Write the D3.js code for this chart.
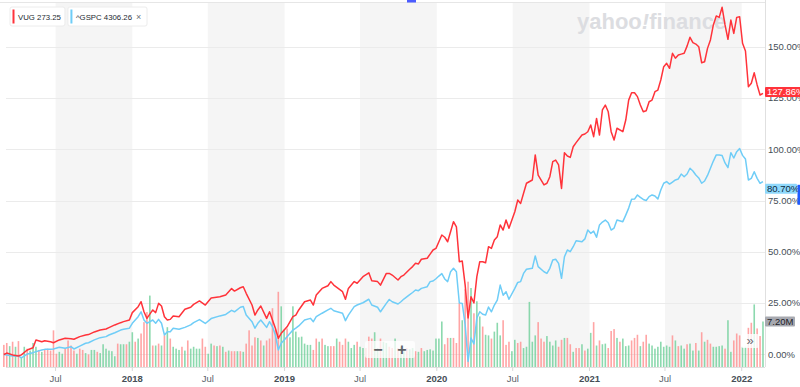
<!DOCTYPE html>
<html><head><meta charset="utf-8">
<script src="https://cdn.jsdelivr.net/npm/d3@7"></script>
<style>
html,body{margin:0;padding:0;background:#fff;overflow:hidden;}
svg{display:block;font-family:"Liberation Sans",Arial,sans-serif;}
</style></head>
<body><svg id="chart" width="800" height="387"></svg>
<script>
// ---------------- DATA ----------------
const startWeek = "2017-02-27";              // week 0 (weekly points, Monday dates)
const weekNo = [0,1,3,5,6,8,10,11,13,14,16,17,19,21,23,24,26,28,29,31,33,35,36,38,40,41,43,44,46,47,48,49,51,52,53,54,55,56,57,58,60,62,64,65,67,69,71,74,76,78,79,81,82,83,85,86,87,88,90,91,92,93,94,95,97,99,100,101,103,105,106,107,109,111,112,113,116,117,118,120,121,123,125,126,128,129,131,132,133,135,136,137,139,140,141,142,143,145,146,147,148,149,150,151,152,153,154,155,156,157,158,159,160,161,162,163,164,165,166,167,168,169,170,171,172,173,175,176,177,178,179,181,182,183,185,186,187,188,189,190,191,192,193,194,195,196,198,199,200,201,202,203,204,205,206,207,208,209,210,212,213,214,215,216,217,218,219,220,221,222,223,224,225,226,227,228,229,230,231,232,233,234,235,236,237,238,239,240,241,242,243,244,245,246,247,248,249,250,251,252,253,254,255,256,257,258,259,260];
const vugPct = [0,0.7,-0.2,-0.7,-0.2,2.2,3.3,7.1,6.2,6.7,6.2,5.7,7.1,7.9,7.7,7.4,8.7,9.5,9.7,11.0,11.9,12.4,13.1,14.4,15.5,16.0,16.8,20.4,23.3,25.7,20.8,17.6,21.7,20.4,24.9,23.6,18.4,16.8,17.1,18.8,18.4,22.0,23.0,24.4,26.1,24.1,27.5,28.1,29.0,32.1,30.9,32.5,33.0,29.8,24.1,19.2,21.7,23.6,17.6,20.8,16.8,12.8,7.9,10.3,13.5,18.4,19.2,21.7,25.7,26.5,24.1,29.0,32.2,33.5,35.5,33.8,30.6,26.9,32.2,35.5,34.7,37.9,39.8,35.9,35.5,33.8,39.5,39.5,38.7,36.3,37.9,38.7,41.5,42.8,44.4,44.1,46.4,46.9,48.9,50.9,51.7,54.9,58.2,57.1,54.9,59.8,64.7,62.2,45.2,45.5,33.8,17.8,28.1,25.1,37.9,45.2,45.2,44.7,52.5,51.7,55.8,57.4,63.1,60.6,65.5,61.5,69.5,75.2,73.6,78.5,83.4,85.0,97.2,87.4,82.6,83.4,86.6,93.9,94.7,92.3,80.9,98.3,96.7,96.0,101.2,103.2,106.9,107.4,108.5,111.8,106.1,115.0,106.9,119.1,121.5,118.2,108.5,104.5,110.2,108.5,114.2,123.9,127.5,127.5,125.6,121.5,118.2,118.7,123.1,123.9,128.0,128.8,133.7,140.2,141.8,139.4,146.7,144.3,145.9,146.3,146.7,150.2,154.5,151.9,151.2,149.9,142.1,142.6,149.1,153.2,160.5,164.9,164.2,169.1,160.5,153.5,162.9,156.4,164.2,164.5,151.6,147.8,130.4,132.1,137.2,131.3,126.4,127.2];
const gspcPct = [0,-0.2,-0.7,-0.7,-1.6,0.2,0.9,1.4,2.2,2.5,2.5,2.7,3.5,3.0,3.8,2.7,4.1,5.5,5.7,7.1,8.2,8.7,9.5,10.6,11.9,12.3,12.8,15.2,18.4,20.8,16.8,15.2,16.8,15.2,17.1,15.2,9.5,11.1,11.1,12.8,12.3,13.2,14.4,15.5,17.0,15.1,17.5,18.8,19.5,21.5,20.8,23.0,23.4,19.2,16.0,12.8,15.2,16.8,13.2,16.0,13.5,9.5,2.2,5.5,8.7,11.9,12.8,13.9,16.8,17.6,16.0,18.4,20.1,21.7,22.5,21.3,20.1,16.5,19.2,23.3,24.1,25.2,26.9,24.1,23.0,20.8,24.9,26.8,25.7,24.6,25.7,27.0,29.2,30.2,31.4,31.1,32.2,33.0,35.5,35.8,36.9,38.2,39.4,36.8,35.5,40.3,42.0,40.3,25.1,24.9,14.4,-3.4,8.0,5.1,17.8,20.8,19.6,19.2,23.1,20.8,24.1,26.5,33.8,28.9,30.6,26.9,32.2,35.1,35.5,39.5,41.5,42.0,48.0,42.8,40.3,39.5,42.0,46.0,46.4,44.4,37.1,47.6,50.9,50.1,52.5,55.4,54.9,56.3,60.6,59.0,60.1,57.1,63.1,64.5,65.5,64.2,60.6,61.6,65.5,64.7,67.9,71.3,75.6,75.7,77.7,76.5,75.5,75.0,76.9,77.7,77.2,75.7,80.1,83.4,84.2,83.0,84.0,85.0,85.5,87.9,86.6,87.9,90.7,89.4,87.4,86.0,83.4,84.5,87.2,90.7,94.2,97.2,97.2,96.9,93.3,91.0,98.3,95.7,98.8,100.3,97.0,95.2,85.0,85.8,89.0,85.8,83.4,84.2];
// weekly volume (millions), one per week from week 0 to week 260
const volumeM = [3.5,3.8,3.3,4.0,3.2,4.1,1.6,3.2,2.9,2.6,
3.8,3.2,2.7,2.4,2.7,2.9,2.6,5.8,2.1,2.4,
2.1,2.9,4.2,3.4,2.6,2.1,2.9,2.7,2.2,2.0,
2.7,2.7,2.4,2.2,3.6,2.9,2.6,2.5,1.7,3.7,
3.6,3.6,3.6,4.0,5.5,4.0,4.5,5.3,7.1,8.7,
11.3,3.4,3.4,3.7,3.4,5.0,6.3,4.5,3.2,2.9,
2.7,3.2,2.6,4.2,2.9,3.2,2.9,2.9,4.5,3.2,
2.1,3.7,3.4,3.3,3.4,3.2,2.4,2.6,2.5,2.5,
2.5,2.5,2.4,3.7,5.8,3.4,4.7,4.6,4.2,3.4,
4.2,4.5,9.3,5.9,11.9,9.6,5.9,6.1,4.7,9.6,
5.6,4.7,4.8,3.7,3.5,3.5,2.7,4.5,4.0,4.5,
3.5,3.3,3.3,3.3,4.5,4.0,3.5,4.5,4.0,3.0,
3.5,4.0,3.2,3.0,3.0,4.8,4.5,5.5,3.0,4.5,
4.0,3.8,3.2,3.0,4.5,3.0,3.2,2.5,3.0,2.8,
3.0,2.5,2.4,3.0,2.5,2.7,2.8,2.6,4.5,4.5,
7.2,3.6,4.6,4.6,4.6,3.8,10.1,7.4,12.3,13.5,
12.5,8.5,10.4,8.0,6.4,5.1,5.0,4.5,5.6,7.0,
5.0,7.4,3.5,4.0,2.5,4.3,3.8,4.0,3.0,3.2,
10.3,4.0,5.0,7.1,4.5,4.0,4.9,4.0,3.4,4.2,
3.2,4.3,4.6,4.6,3.6,2.4,3.0,3.0,3.6,2.6,
2.9,5.4,7.1,3.4,4.2,3.6,3.7,3.0,5.7,6.0,
4.6,4.0,4.5,3.3,3.4,4.2,4.6,5.1,3.3,4.0,
5.1,3.7,3.4,2.9,3.2,4.0,3.2,3.4,3.2,5.0,
4.2,3.3,3.4,2.9,3.6,3.7,2.6,3.8,2.6,5.5,
4.0,4.3,3.7,3.2,3.2,3.3,3.4,2.9,7.4,2.4,
4.2,5.3,5.0,3.2,3.2,6.2,7.0,9.9,6.1,4.9,
7.2];
// g = up week, r = down week
const volumeDir = ("rrgrgrggrg"+"ggrgrrrrrg"+"grrrrgrrgr"+"ggrggggggr"+"ggrggrgrrr"+
  "grgrgrgrgg"+"grgrggggrr"+"ggrgrgrgrr"+"grgrrrrgrg"+"rrrrrggrgg"+
  "ggggggrrgr"+"ggrrgrrrgg"+"grggrrrggr"+"ggrrgrggrg"+"grgrgggggg"+
  "grrgrrrgrr"+"grggrggrgg"+"grrrggrrgg"+"gggrrrgggg"+"rrgrrgrrgr"+
  "ggrgrggrrr"+"grgggrrrgr"+"rggggggggr"+"grggrggrgr"+"grrggggrgg"+
  "rrrggrrgrr"+"g").split("");
const yTicks = [0,25,50,75,100,125,150];
const xTicks = ["2017-07-01","2018-01-01","2018-07-01","2019-01-01","2019-07-01","2020-01-01","2020-07-01","2021-01-01","2021-07-01","2022-01-01"];
const legendItems = [{sym:"VUG", price:"273.25", color:"#ff333a"},{sym:"^GSPC", price:"4306.26", color:"#6fcdf7"}];
const lastVug = 127.86, lastGspc = 80.70, lastVol = 7.20;

// ---------------- CHART ----------------
const svg = d3.select("#chart");
const parse = d3.utcParse("%Y-%m-%d");
const start = parse(startWeek);
const dateOf = w => d3.utcDay.offset(start, 7*w);
const P = {top:3, bottom:367, right:765};

const x = d3.scaleUtc().domain([Date.UTC(2017,1,17,19), Date.UTC(2022,1,25,20)]).range([0, 765]);
const y = d3.scaleLinear().domain([-6.09, 171.2]).range([P.bottom, P.top]);
const yv = d3.scaleLinear().domain([0, 10]).range([P.bottom, P.bottom - 63.2]);

// shaded half-year bands (Jul -> Jan)
const tickDates = xTicks.map(parse);
const bands = tickDates.filter(d => d.getUTCMonth() === 6);
svg.append("g").selectAll("rect").data(bands).join("rect")
  .attr("x", d => x(d)).attr("y", P.top)
  .attr("width", d => x(d3.utcMonth.offset(d, 6)) - x(d))
  .attr("height", P.bottom - P.top)
  .attr("fill", "#f5f5f5");

// top border
svg.append("line").attr("x1",0).attr("x2",P.right).attr("y1",2.5).attr("y2",2.5).attr("stroke","#e6e6e6");

// horizontal grid
svg.append("g").selectAll("line").data(yTicks).join("line")
  .attr("x1", 6).attr("x2", P.right)
  .attr("y1", d => Math.round(y(d)) + 0.5).attr("y2", d => Math.round(y(d)) + 0.5)
  .attr("stroke", "#ebebeb");

// watermark
const wm = svg.append("text").attr("x", 577).attr("y", 28.5)
  .attr("font-size", 22).attr("font-weight", "bold").attr("fill", "#dcdde1");
wm.append("tspan").text("yahoo");
wm.append("tspan").attr("font-style","italic").text("!");
wm.append("tspan").text("finance");

// volume bars
const bars = volumeM.map((v,i) => ({date: dateOf(i), v, dir: volumeDir[i]}));
svg.append("g").selectAll("rect").data(bars).join("rect")
  .attr("x", d => x(d.date) - 0.8).attr("width", 1.6)
  .attr("y", d => yv(d.v)).attr("height", d => yv(0) - yv(d.v))
  .attr("fill", d => d.dir === "g" ? "#6fd09a" : "#ff8f8f")
  .attr("opacity", 0.8);

// bottom axis
svg.append("line").attr("x1",6).attr("x2",P.right).attr("y1",P.bottom+0.5).attr("y2",P.bottom+0.5).attr("stroke","#e0e0e0");
const xt = svg.append("g").selectAll("g").data(tickDates).join("g")
  .attr("transform", d => `translate(${x(d)},0)`);
xt.append("line").attr("y1", P.bottom).attr("y2", P.bottom + 4).attr("stroke", "#d8d8d8");
xt.append("text").attr("y", 381.5).attr("text-anchor","middle")
  .attr("font-size", 9.5)
  .attr("font-weight", d => d.getUTCMonth() === 0 ? "bold" : "normal")
  .attr("fill", d => d.getUTCMonth() === 0 ? "#464e56" : "#5b636a")
  .text(d => d.getUTCMonth() === 0 ? d3.utcFormat("%Y")(d) : d3.utcFormat("%b")(d));

// right axis
svg.append("line").attr("x1",P.right+0.5).attr("x2",P.right+0.5).attr("y1",0).attr("y2",P.bottom).attr("stroke","#e0e0e0");
svg.append("g").selectAll("text").data(yTicks).join("text")
  .attr("x", 768).attr("y", d => y(d)).attr("dy","0.35em")
  .attr("font-size", 9.5).attr("fill", "#464e56")
  .text(d => d3.format(".2f")(d) + "%");

// lines
const pts = weekNo.map((w,i) => ({date: dateOf(w), vug: vugPct[i], spx: gspcPct[i]}));
const lineV = d3.line().x(d => x(d.date)).y(d => y(d.vug));
const lineS = d3.line().x(d => x(d.date)).y(d => y(d.spx));
svg.append("path").datum(pts).attr("d", lineS).attr("fill","none").attr("stroke","#6fcdf7").attr("stroke-width",1.5).attr("stroke-linejoin","round");
svg.append("path").datum(pts).attr("d", lineV).attr("fill","none").attr("stroke","#ff333a").attr("stroke-width",1.5).attr("stroke-linejoin","round");

// zoom control
const zc = svg.append("g");
zc.append("rect").attr("x",365).attr("y",341).attr("width",50).attr("height",17).attr("rx",2).attr("fill","#fff").attr("opacity",0.75);
zc.append("text").attr("x",378).attr("y",354.5).attr("text-anchor","middle").attr("font-size",16).attr("font-weight","bold").attr("fill","#5f6368").text("−");
zc.append("text").attr("x",402).attr("y",355).attr("text-anchor","middle").attr("font-size",16).attr("font-weight","bold").attr("fill","#5f6368").text("+");

// scroll button
svg.append("rect").attr("x",741).attr("y",334).attr("width",18).attr("height",14).attr("rx",2).attr("fill","#fff").attr("opacity",0.8);
svg.append("text").attr("x",750).attr("y",345).attr("text-anchor","middle").attr("font-size",13).attr("fill","#6b6f75").text("»");

// last value badges
function badge(yPos, label, bg, fg, w) {
  const g = svg.append("g").attr("transform", `translate(${P.right},${yPos})`);
  g.append("rect").attr("x",0).attr("y",-5).attr("width",w).attr("height",10).attr("rx",1).attr("fill",bg);
  g.append("text").attr("x",2).attr("y",0).attr("dy","0.35em").attr("font-size",9.5).attr("fill",fg).text(label);
}
badge(y(lastVug), d3.format(".2f")(lastVug) + "%", "#ff333a", "#ffffff", 36);
badge(y(lastGspc), d3.format(".2f")(lastGspc) + "%", "#8fd8fb", "#0b2a3c", 32);
badge(yv(lastVol), d3.format(".2f")(lastVol) + "M", "#a7a9b0", "#1d2228", 30);
svg.append("rect").attr("x",797.5).attr("y",y(lastGspc)-4).attr("width",2.5).attr("height",20).attr("fill","#1e5bff");

// top marker
svg.append("rect").attr("x",407).attr("y",0).attr("width",9).attr("height",2.5).attr("fill","#4b5cff");

// legend
let lx = 10;
legendItems.forEach((it, i) => {
  const g = svg.append("g").attr("transform", `translate(${lx},7)`);
  const t = g.append("text").attr("x",8).attr("y",12.5).attr("font-size",7.8).attr("fill","#232a31")
    .text(it.sym + " " + it.price);
  let w = t.node().getComputedTextLength() + 12;
  if (i === 1) {
    g.append("text").attr("x", w).attr("y",12.5).attr("font-size",9).attr("fill","#6b6f75").text("×");
    w += 11;
  }
  g.insert("rect", "text").attr("x",0).attr("y",0).attr("width",w).attr("height",19).attr("rx",2)
    .attr("fill","#fff").attr("stroke","#ececec");
  g.append("rect").attr("x",2.5).attr("y",2.5).attr("width",2).attr("height",14).attr("fill",it.color);
  lx += w + 3;
});
</script></body></html>
